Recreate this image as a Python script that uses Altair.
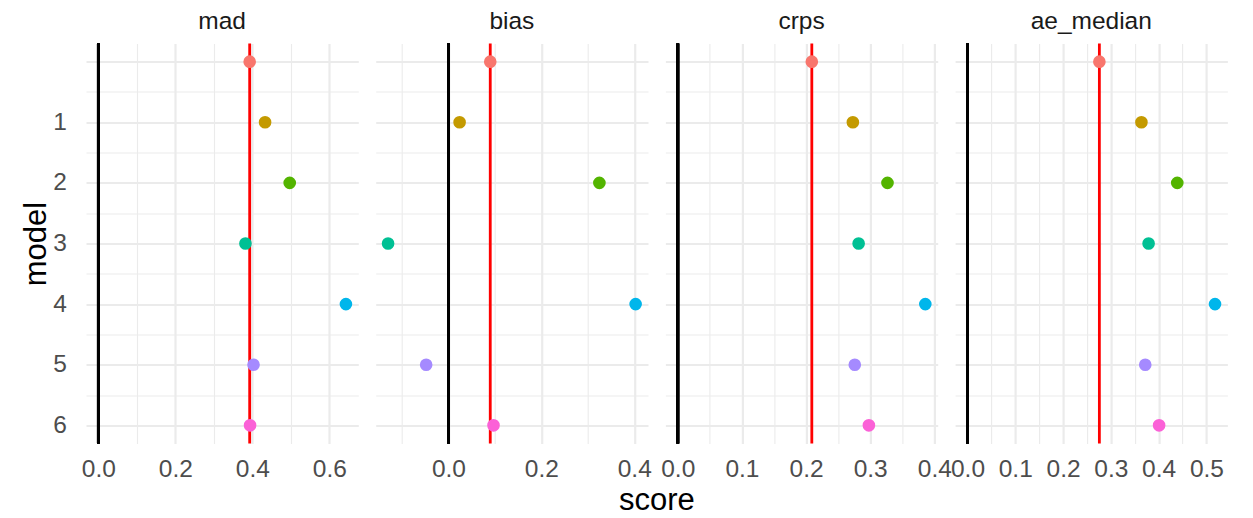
import json
import math
import altair as alt
import pandas as pd

# ---- data ----
models = ["ensemble", "1", "2", "3", "4", "5", "6"]
model_labels = ["", "1", "2", "3", "4", "5", "6"]
metrics = ["mad", "bias", "crps", "ae_median"]
mad = [0.393, 0.433, 0.497, 0.382, 0.643, 0.403, 0.394]
bias = [0.090, 0.024, 0.325, -0.130, 0.403, -0.048, 0.097]
crps = [0.209, 0.273, 0.327, 0.282, 0.386, 0.276, 0.298]
ae_median = [0.276, 0.364, 0.439, 0.379, 0.518, 0.372, 0.401]
major_steps = [0.2, 0.2, 0.1, 0.1]

series = {"mad": mad, "bias": bias, "crps": crps, "ae_median": ae_median}
hue = ["#F8766D", "#C49A00", "#53B400", "#00C094", "#00B6EB", "#A58AFF", "#FB61D7"]

FONT = "Liberation Sans"
GRID = "#EBEBEB"
PANEL_W = 272.3
PANEL_H = 400

n = len(models)
ypad = 0.05 * (n - 1)
yvals = [k * 0.5 for k in range(0, 2 * (n - 1) + 1)]
ylab_expr = "datum.value % 1 == 0 ? " + json.dumps(model_labels) + "[datum.value] : ''"
ygrid_w = {"condition": {"test": "datum.value % 1 == 0", "value": 2.2}, "value": 1.1}


def panel(i, metric):
    vals = series[metric]
    df = pd.DataFrame({"model": models, "idx": list(range(n)), "score": vals})
    lo = min(0.0, min(vals))
    hi = max(0.0, max(vals))
    pad = 0.05 * (hi - lo)
    major = major_steps[i]
    minor = major / 2
    k0 = math.ceil((lo - pad) / minor - 1e-9)
    k1 = math.floor((hi + pad) / minor + 1e-9)
    xvals = [round(k * minor, 6) for k in range(k0, k1 + 1)]
    mtest = f"abs(datum.value/{major} - round(datum.value/{major})) < 1e-6"
    xscale = alt.Scale(domain=[lo - pad, hi + pad], nice=False, zero=False)

    axis_kwargs = dict(
        values=xvals,
        labelExpr=f"{mtest} ? format(datum.value, '.1f') : ''",
        grid=True,
        gridColor=GRID,
        gridWidth={"condition": {"test": mtest, "value": 2.2}, "value": 1.1},
        domain=False,
        ticks=False,
        tickSize=0,
        labelPadding=14,
        labelFontSize=24.5,
        labelColor="#4D4D4D",
        labelFont=FONT,
        labelOverlap=False,
        labelFlush=False,
        labelBound=False,
    )
    if metric == "bias":
        axis_kwargs.update(
            title="score",
            titleFontSize=31,
            titleFont=FONT,
            titleFontWeight="normal",
            titleColor="#000000",
            titlePadding=4,
            titleX=PANEL_W + 16.7 / 2,
        )
    else:
        axis_kwargs.update(title=None)
    xaxis = alt.Axis(**axis_kwargs)

    if i == 0:
        yaxis = alt.Axis(
            values=yvals,
            labelExpr=ylab_expr,
            grid=True,
            gridColor=GRID,
            gridWidth=ygrid_w,
            domain=False,
            ticks=False,
            tickSize=0,
            labelPadding=19.5,
            labelFontSize=24.5,
            labelColor="#4D4D4D",
            labelFont=FONT,
            labelOverlap=False,
            labelFlush=False,
            title="model",
            titleFontSize=31,
            titleFont=FONT,
            titleFontWeight="normal",
            titleColor="#000000",
            titlePadding=0,
        )
    else:
        yaxis = alt.Axis(
            values=yvals,
            labels=False,
            grid=True,
            gridColor=GRID,
            gridWidth=ygrid_w,
            domain=False,
            ticks=False,
            tickSize=0,
            title=None,
        )
    yscale = alt.Scale(domain=[-ypad, (n - 1) + ypad], reverse=True, nice=False, zero=False)

    base = alt.Chart(df)
    zero_rule = base.mark_rule(color="#000000", strokeWidth=2.8).encode(
        x=alt.datum(0, type="quantitative", scale=xscale, axis=xaxis)
    )
    ens_rule = base.transform_filter(alt.datum.model == "ensemble").mark_rule(
        color="#FF0000", strokeWidth=2.8
    ).encode(x=alt.X("score:Q", scale=xscale, axis=xaxis))
    pts = base.mark_point(filled=True, size=160, opacity=1).encode(
        x=alt.X("score:Q", scale=xscale, axis=xaxis),
        y=alt.Y("idx:Q", scale=yscale, axis=yaxis),
        color=alt.Color("model:N", scale=alt.Scale(domain=models, range=hue), legend=None),
    )
    return alt.layer(zero_rule, ens_rule, pts).properties(
        width=PANEL_W,
        height=PANEL_H,
        view=alt.ViewBackground(stroke="transparent", strokeWidth=0),
        title=alt.TitleParams(
            text=metric,
            fontSize=24.5,
            font=FONT,
            fontWeight="normal",
            color="#1A1A1A",
            anchor="middle",
            baseline="alphabetic",
            frame="group",
            offset=-11,
        ),
    )


chart = (
    alt.hconcat(*[panel(i, m) for i, m in enumerate(metrics)], spacing=16.7, bounds="flush")
    .properties(padding={"left": 20, "top": 8.5, "right": 5, "bottom": 5}, background="white")
    .configure_view(strokeWidth=0, stroke="transparent")
    .configure(font=FONT)
)

chart.save("out.html", embed_options={"renderer": "svg", "actions": False})
